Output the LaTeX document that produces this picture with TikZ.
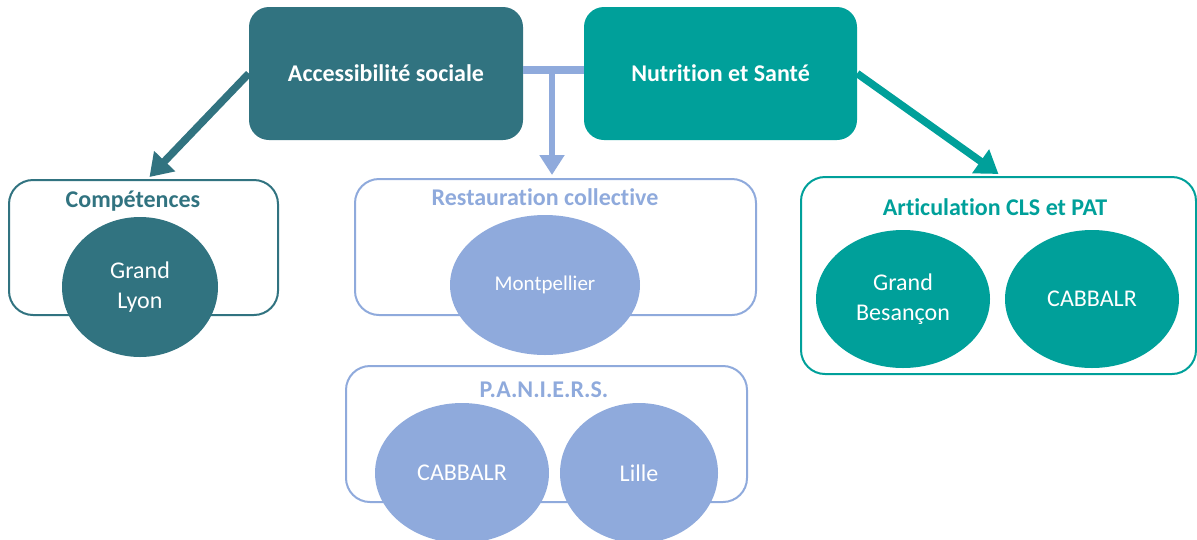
\documentclass[tikz,border=0pt]{standalone}
\usepackage{fontspec}
\setmainfont{Carlito}[Ligatures=NoCommon]
\usetikzlibrary{arrows.meta,shapes.geometric}
\definecolor{tealdark}{RGB}{49,115,128}
\definecolor{tealmid}{RGB}{0,160,154}
\definecolor{paleblue}{RGB}{143,170,220}
\begin{document}
\begin{tikzpicture}[x=1pt,y=-1pt,
  theme/.style={rounded corners=20pt,minimum width=274pt,minimum height=133pt,text=white,inner sep=0pt,font=\fontsize{24}{28}\selectfont\bfseries},
  group/.style={draw=#1,line width=2pt,rounded corners=24pt,inner sep=0pt},
  title/.style={text=#1,inner sep=0pt,font=\fontsize{24}{28}\selectfont\bfseries},
  place/.style={ellipse,fill=#1,text=white,inner sep=0pt,align=center,font=\fontsize{24}{30}\selectfont},
  link/.style={draw=#1,line width=7.5pt,-{Triangle[length=22pt,width=28pt]}}]
  \useasboundingbox (0,0) rectangle (1197,539);
  % top themes
  \node[theme,fill=tealdark] (access) at (386,73.5) {Accessibilité sociale};
  \node[theme,fill=tealmid,minimum width=273pt] (nutri) at (720.5,73.5) {Nutrition et Santé};
  % group boxes
  \node[group=tealdark,minimum width=269pt,minimum height=135pt] (comp) at (143.5,247.5) {};
  \node[group=paleblue,minimum width=401pt,minimum height=136pt] (resto) at (555.5,247) {};
  \node[group=paleblue,minimum width=401pt,minimum height=136pt] (paniers) at (546.5,434) {};
  \node[group=tealmid,minimum width=395pt,minimum height=197pt] (artic) at (998.5,275.5) {};
  \node[title=tealdark] (compT) at (133,201) {Compétences};
  \node[title=paleblue] (restoT) at (545,197) {Restauration collective};
  \node[title=paleblue] (paniersT) at (544,390) {P.A.N.I.E.R.S.};
  \node[title=tealmid] (articT) at (995,207) {Articulation CLS et PAT};
  % territories
  \node[place=tealdark,minimum width=156pt,minimum height=140pt] (lyon) at (140,287) {Grand\\Lyon};
  \node[place=paleblue,minimum width=190pt,minimum height=140pt,font=\fontsize{21}{25}\selectfont] (montp) at (545,285) {Montpellier};
  \node[place=paleblue,minimum width=174pt,minimum height=140pt] (cabA) at (462,473) {CABBALR};
  \node[place=paleblue,minimum width=158pt,minimum height=140pt] (lille) at (639,473) {Lille};
  \node[place=tealmid,minimum width=174pt,minimum height=138pt] (besan) at (903,299) {Grand\\Besançon};
  \node[place=tealmid,minimum width=174pt,minimum height=138pt] (cabB) at (1092,299) {CABBALR};
  % links
  \coordinate (tee) at (552,70);
  \draw[paleblue,line width=8pt] (access.east |- tee) -- (nutri.west |- tee);
  \draw[paleblue,line width=6pt,-{Triangle[length=20pt,width=24pt]}] (tee) -- ([yshift=3pt]tee |- resto.north);
  \draw[link=tealdark] (access.west) -- ([xshift=6pt,yshift=2pt]comp.north);
  \draw[link=tealmid] (nutri.east) -- ([yshift=2pt]artic.north);
\end{tikzpicture}
\end{document}
